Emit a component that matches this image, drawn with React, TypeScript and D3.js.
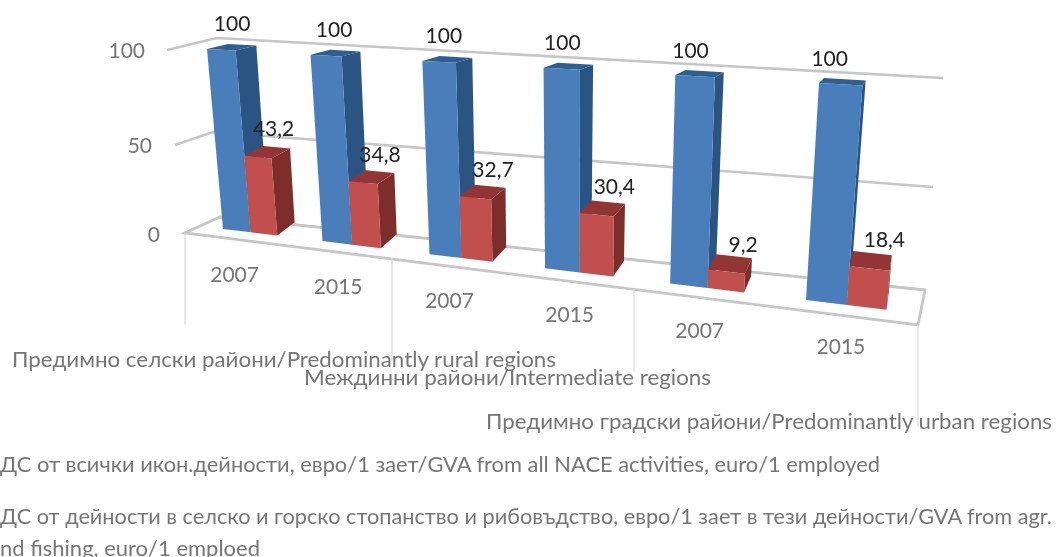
import React from "react";
import * as d3 from "d3";

const years = ["2007", "2015", "2007", "2015", "2007", "2015"];
const allActivities = [100, 100, 100, 100, 100, 100];
const agriculture = [43.2, 34.8, 32.7, 30.4, 9.2, 18.4];
const valueTicks = [0, 50, 100];
const FONT = "Lato, Carlito, 'Open Sans', sans-serif";

type P = [number, number];

function quadMap(p0: P, p1: P, p2: P, p3: P) {
  const dx1 = p1[0] - p2[0], dx2 = p3[0] - p2[0], sx = p0[0] - p1[0] + p2[0] - p3[0];
  const dy1 = p1[1] - p2[1], dy2 = p3[1] - p2[1], sy = p0[1] - p1[1] + p2[1] - p3[1];
  const den = dx1 * dy2 - dx2 * dy1;
  const g = (sx * dy2 - dx2 * sy) / den;
  const h = (dx1 * sy - sx * dy1) / den;
  const a = p1[0] - p0[0] + g * p1[0], b = p3[0] - p0[0] + h * p3[0];
  const d = p1[1] - p0[1] + g * p1[1], e = p3[1] - p0[1] + h * p3[1];
  return (s: number, t: number): P => {
    const w = g * s + h * t + 1;
    return [(a * s + b * t + p0[0]) / w, (d * s + e * t + p0[1]) / w];
  };
}

const uScale = d3.scaleLinear().domain([0, 5]).range([0, 1]);
const vScale = d3.scaleLinear().domain([0, 100]).range([0, 1]);

const frontPlane = quadMap([223, 229], [806, 300], [819, 83], [207, 49]);
const backPlane = quadMap([241, 216], [811, 283], [824, 78], [228, 44]);

function project(cat: number, value: number, depth: number): P {
  const f = frontPlane(uScale(cat), vScale(value));
  const b = backPlane(uScale(cat), vScale(value));
  return [f[0] + (b[0] - f[0]) * depth, f[1] + (b[1] - f[1]) * depth];
}

const closed = d3.line<P>().curve(d3.curveLinearClosed);
const open = d3.line<P>();

const BLUE_W = 0.285;
const RED_W = 0.27;

function bar(u0: number, u1: number, v: number, colors: string[], key: string) {
  const side: P[] = [project(u1, 0, 0), project(u1, 0, 1), project(u1, v, 1), project(u1, v, 0)];
  const top: P[] = [project(u0, v, 0), project(u1, v, 0), project(u1, v, 1), project(u0, v, 1)];
  const front: P[] = [project(u0, 0, 0), project(u1, 0, 0), project(u1, v, 0), project(u0, v, 0)];
  return (
    <g key={key}>
      <path d={closed(side)!} fill={colors[1]} />
      <path d={closed(top)!} fill={colors[2]} />
      <path d={closed(front)!} fill={colors[0]} />
    </g>
  );
}

// wall frame: each corner of the wall moves with the value along its own scale
const wallX = [
  d3.scaleLinear().domain(valueTicks).range([185, 175, 167]),
  d3.scaleLinear().domain(valueTicks).range([220, 213, 217]),
  d3.scaleLinear().domain(valueTicks).range([925, 933, 943]),
];
const wallY = [
  d3.scaleLinear().domain(valueTicks).range([233, 145, 50]),
  d3.scaleLinear().domain(valueTicks).range([217, 132, 38]),
  d3.scaleLinear().domain(valueTicks).range([290, 187, 78]),
];
const floor: P[] = [[185, 233], [220, 217], [925, 290], [918, 325]];
const separators: [number, number, number][] = [
  [185, 233, 325],
  [392, 258, 361],
  [634, 289, 372],
  [918, 325, 427],
];

const tickLabels: [string, number, number][] = [
  ["100", 145, 49],
  ["50", 152, 144],
  ["0", 160, 233],
];
const groupLabels: [string, number, number, number][] = [
  ["Предимно селски райони/Predominantly rural regions", 12, 556, 358],
  ["Междинни райони/Intermediate regions", 304, 711, 376],
  ["Предимно градски райони/Predominantly urban regions", 486, 1052, 420],
];
const legendLabels: [string, number, number, number][] = [
  ["ДС от всички икон.дейности, евро/1 зает/GVA from all NACE activities, euro/1 employed", 0, 880, 463],
  ["ДС от дейности в селско и горско стопанство и рибовъдство, евро/1 зает в тези дейности/GVA from agr.", 0, 1052, 515],
  ["nd fishing, euro/1 emploed", 0, 260, 547],
];

const BLUE = ["#4a7ebb", "#2c5583", "#2f5e92"];
const RED = ["#c0504d", "#7d2e2b", "#943634"];

export default function App() {
  const grey = "#c6c6c6";
  const textGrey = "#767676";
  return (
    <svg
      width={1056}
      height={557}
      viewBox="0 0 1056 557"
      style={{ position: "absolute", left: 0, top: 0, background: "#fff" }}
      fontFamily={FONT}
    >
      <defs>
        <filter id="soft" x="-5%" y="-5%" width="110%" height="110%">
          <feGaussianBlur stdDeviation="0.5" />
        </filter>
        <filter id="softText" x="-5%" y="-5%" width="110%" height="110%">
          <feGaussianBlur stdDeviation="0.3" />
        </filter>
      </defs>
      <g filter="url(#soft)">
        {valueTicks.map((t) => (
          <path
            key={t}
            d={open(wallX.map((sx, i) => [sx(t), wallY[i](t)] as P))!}
            fill="none"
            stroke={grey}
            strokeWidth={2.6}
          />
        ))}
        <path d={closed(floor)!} fill="#fff" stroke={grey} strokeWidth={2.8} />
        {separators.map(([x, y0, y1]) => (
          <line key={x} x1={x} x2={x} y1={y0} y2={y1} stroke="#d9d9d9" strokeWidth={1.2} />
        ))}
        {years.map((_, i) => (
          <g key={i}>
            {bar(i, i + BLUE_W, allActivities[i], BLUE, "b" + i)}
            {bar(i + BLUE_W, i + BLUE_W + RED_W, agriculture[i], RED, "r" + i)}
          </g>
        ))}
      </g>
      <g filter="url(#softText)">
        <g fill={textGrey} fontSize={21} dominantBaseline="central">
          {tickLabels.map(([s, x, y]) => (
            <text key={s} x={x} y={y} textAnchor="end">{s}</text>
          ))}
          {years.map((y, i) => {
            const [px, py] = project(i + BLUE_W, 0, 0);
            return (
              <text key={i} x={px - 16 + 2 * i} y={py + 41} textAnchor="middle">{y}</text>
            );
          })}
        </g>
        <g fill={textGrey} fontSize={22} dominantBaseline="central">
          {[...groupLabels, ...legendLabels].map(([s, x0, x1, y]) => (
            <text key={s} x={x0} y={y} textLength={x1 - x0} lengthAdjust="spacingAndGlyphs">{s}</text>
          ))}
        </g>
        <g fill="#222" fontSize={21} textAnchor="middle" dominantBaseline="central">
          {allActivities.map((v, i) => {
            const [px, py] = project(i + BLUE_W / 2, v, 1);
            return <text key={i} x={px - 10 - i} y={py - 22}>{v}</text>;
          })}
          {agriculture.map((v, i) => {
            const [px, py] = project(i + BLUE_W + RED_W / 2, v, 1);
            return (
              <text key={i} x={px - 3 + 3 * i} y={py - 20 + (45 - v) * 0.2}>
                {String(v).replace(".", ",")}
              </text>
            );
          })}
        </g>
      </g>
    </svg>
  );
}
